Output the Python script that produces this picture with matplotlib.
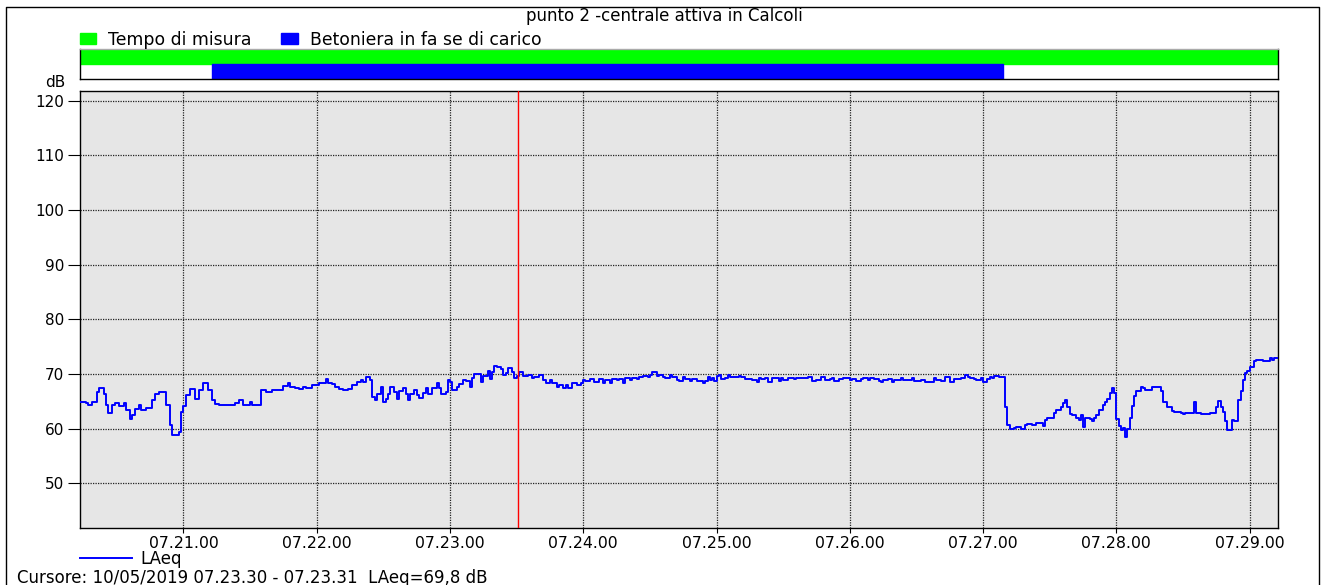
import matplotlib.pyplot as plt
from matplotlib.patches import Patch
from matplotlib.lines import Line2D
from matplotlib.ticker import MultipleLocator, FuncFormatter
import numpy as np

plt.rcParams['font.family'] = ['DejaVu Sans']
plt.rcParams['font.size'] = 12

# LAeq 1 s, step levels: start of each step in seconds after 07.20.00
t_start = [13, 16, 17, 19, 21, 22, 24, 25, 26, 28, 29, 31, 33, 34, 36, 37, 38, 40, 41, 43,
           46, 47, 49, 52, 54, 55, 58, 59, 60, 61, 63, 65, 67, 69, 71, 73, 74, 76, 83, 85,
           87, 90, 91, 95, 97, 100,
           105, 107, 108, 110, 112, 114, 115, 118, 121, 124, 125, 127, 128, 130, 132, 134, 136, 138, 140, 141,
           142, 144, 145, 146, 147, 149, 150, 151, 152, 153, 155, 156, 157, 159, 160, 161, 162, 164, 165, 166,
           168, 169, 170, 172, 174, 175, 176, 178, 179, 180, 181, 183, 184, 186, 187, 189, 190, 191, 194, 195,
           197,
           198, 199, 200, 201, 203, 204, 205, 206, 208, 209, 210, 211, 212, 213, 215, 217, 218, 220, 222, 223,
           225, 226, 228, 229, 231, 232, 233, 235, 237, 239, 240, 241, 243, 245, 247, 249, 250, 252, 253, 255,
           256, 258, 259, 261, 262, 264, 265, 267, 269, 270, 271, 273, 274, 276, 277, 279, 280, 282, 283, 285,
           286,
           288, 289, 291, 294, 295, 296, 297, 298, 299, 300, 301, 302, 304, 305, 306, 308, 310, 311, 313, 314,
           316, 318, 319, 320, 322, 323, 325, 328, 329, 330, 332, 333, 335, 336, 338, 339, 341, 342, 343, 345,
           347, 348, 349, 351, 352, 353, 355, 357, 359, 360, 361, 363, 365, 366, 368, 369, 370, 371, 373, 374,
           375, 377,
           379, 380, 383, 384, 388, 389, 392, 394, 396, 398, 399, 401, 403, 404, 405, 407, 408, 410, 412, 413,
           414, 416, 417, 419, 420, 422, 423, 424, 425, 427, 428, 430, 431, 432, 434, 435, 437, 439, 440, 442,
           444, 447, 448, 449, 452, 453, 455, 456, 457, 458, 459,
           460, 462, 463, 464, 465, 466, 468, 469, 470, 471, 472, 474, 475, 476, 477, 478, 479, 480, 481, 482,
           483, 484, 485, 486, 487, 488, 489, 491, 492, 493, 494, 496, 498, 500, 501, 503, 505, 506, 509, 510,
           511, 515, 516, 518, 522, 525, 526, 527, 528, 529, 530, 532, 533, 535, 536, 537, 538, 539, 540, 542,
           543, 546, 549, 550, 551]
laeq = [64.9, 64.7, 64.3, 64.9, 66.7, 67.4, 66.4, 64.3, 62.8, 64.3, 64.6, 64.2, 64.6, 63.4, 61.8, 62.5, 63.6, 64.3, 63.4, 63.8,
        65.2, 66.3, 66.7, 64.3, 60.6, 58.9, 59.4, 63.1, 64.2, 66.1, 67.2, 65.5, 67.1, 68.3, 67.1, 65.2, 64.5, 64.3, 64.6, 65.2,
        64.3, 64.9, 64.3, 67.1, 66.7, 67.1,
        67.8, 68.3, 67.7, 67.5, 67.2, 67.7, 67.5, 68.0, 68.4, 69.1, 68.3, 68.1, 67.7, 67.2, 67.1, 67.2, 68.0, 68.6, 68.9, 68.6,
        69.5, 68.9, 65.8, 65.2, 66.3, 67.7, 64.9, 65.5, 66.4, 67.7, 66.7, 65.5, 66.9, 67.5, 66.4, 65.2, 66.3, 67.1, 66.1, 65.6,
        66.6, 67.5, 66.4, 67.4, 68.3, 67.4, 66.3, 66.7, 68.9, 68.5, 67.1, 67.7, 68.1, 68.9, 68.7, 67.7, 69.2, 70.0, 68.6, 69.7,
        70.6,
        69.0, 70.4, 71.5, 71.2, 70.9, 69.8, 70.1, 71.0, 70.4, 69.2, 69.7, 70.3, 70.4, 69.6, 69.8, 69.2, 69.5, 69.9, 68.9, 68.3,
        68.9, 68.3, 67.7, 68.0, 67.5, 68.0, 67.5, 68.3, 68.0, 68.3, 68.9, 68.7, 69.1, 68.6, 69.0, 68.3, 68.9, 68.3, 69.1, 68.9,
        69.1, 68.3, 69.2, 68.9, 69.3, 69.0, 69.5, 69.7, 69.5, 69.9, 70.3, 69.7, 69.9, 69.5, 69.3, 69.8, 69.5, 68.9, 68.7, 69.5,
        69.1,
        68.7, 69.1, 68.7, 68.3, 68.8, 69.4, 68.9, 69.2, 68.7, 69.7, 69.9, 69.1, 69.2, 69.8, 69.4, 69.5, 69.7, 69.5, 69.1, 69.0,
        68.9, 68.6, 69.3, 69.1, 69.2, 68.6, 69.2, 68.8, 69.2, 68.9, 69.3, 69.2, 69.1, 69.3, 69.2, 69.3, 69.4, 69.5, 68.8, 68.9,
        69.4, 69.5, 68.9, 69.1, 69.3, 68.8, 69.1, 69.3, 69.2, 68.9, 69.1, 68.7, 69.1, 69.2, 68.9, 69.2, 69.3, 69.1, 68.7, 68.6,
        68.9, 69.1,
        68.6, 68.9, 69.3, 68.9, 69.3, 68.7, 68.9, 68.5, 68.6, 69.2, 68.9, 68.7, 69.4, 69.5, 68.6, 69.0, 69.1, 69.2, 69.8, 69.5,
        69.3, 69.1, 68.9, 69.2, 68.6, 69.1, 69.5, 69.3, 69.6, 69.5, 69.4, 64.0, 60.6, 59.9, 60.1, 60.3, 60.0, 60.6, 60.9, 60.7,
        61.0, 60.5, 61.5, 62.0, 62.8, 63.4, 64.0, 64.6, 65.3, 64.0, 62.6,
        62.5, 61.9, 61.5, 62.5, 60.2, 62.0, 61.7, 61.4, 61.9, 62.5, 63.4, 64.3, 64.9, 65.5, 66.5, 67.5, 66.5, 61.7, 60.5, 59.8,
        60.1, 58.4, 59.9, 61.9, 64.1, 65.9, 66.8, 67.6, 67.4, 67.1, 67.0, 67.6, 67.7, 66.8, 64.9, 64.0, 63.2, 63.1, 62.9, 62.6,
        62.8, 64.8, 62.8, 62.6, 62.8, 64.0, 65.1, 64.0, 63.1, 61.3, 59.8, 61.6, 61.3, 65.2, 66.8, 68.9, 70.2, 70.6, 71.3, 72.4,
        72.6, 72.3, 73.0, 72.6, 72.9]
t_end = 553

# eventi (secondi dopo 07.20.00)
tempo_misura = (13, 553)
betoniera = (73, 429)
t_cursore = 210.5

x_min, x_max = 13.4, 552.8
y_min, y_max = 41.8, 121.8

W, H = 1328, 585
fig = plt.figure(figsize=(W / 100, H / 100), dpi=100)
fig.patch.set_facecolor('white')

# grafico principale
ax = fig.add_axes([80 / W, 57 / H, 1198 / W, 437 / H])
ax.set_facecolor('#e6e6e6')
x = np.append(t_start, t_end)
y = np.append(laeq, laeq[-1])
line, = ax.plot(x, y, drawstyle='steps-post', color='#0000ff', lw=1.4, label='LAeq', zorder=3)
ax.axvline(t_cursore, color='#ff0000', lw=1, zorder=4)

ax.set_xlim(x_min, x_max)
ax.set_ylim(y_min, y_max)
ax.xaxis.set_major_locator(MultipleLocator(60))
ax.xaxis.set_major_formatter(FuncFormatter(lambda s, p: '07.%02d.%02d' % (20 + int(s) // 60, int(s) % 60)))
ax.yaxis.set_major_locator(MultipleLocator(10))
ax.grid(True, color='#222222', linestyle=(0, (1, 1)), linewidth=0.9)
ax.set_axisbelow(True)
ax.tick_params(axis='x', direction='out', length=3.6, width=0.8, colors='black', pad=2.2, labelsize=11.3)
ax.tick_params(axis='y', direction='out', length=8.5, width=0.8, colors='black', pad=3, labelsize=11)
for s in ax.spines.values():
    s.set_color('black')
    s.set_linewidth(1)

# barre eventi
axb = fig.add_axes([80 / W, 506 / H, 1198 / W, 30 / H])
axb.broken_barh([(tempo_misura[0], tempo_misura[1] - tempo_misura[0])], (1, 1), color='#00ff00')
axb.broken_barh([(betoniera[0], betoniera[1] - betoniera[0])], (0, 1), color='#0000ff')
axb.set_xlim(x_min, x_max)
axb.set_ylim(0, 2)
axb.set_xticks([])
axb.set_yticks([])
for s in axb.spines.values():
    s.set_color('black')
    s.set_linewidth(1)
axb.spines['top'].set_color('#aaaaaa')

# testi
fig.text(0.5, 1 - 16 / H, 'punto 2 -centrale attiva in Calcoli', ha='center', va='center')
fig.text(65 / W, 1 - 83 / H, 'dB', ha='right', va='center', fontsize=11)
fig.legend([Patch(color='#00ff00'), Patch(color='#0000ff')],
           ['Tempo di misura', 'Betoniera in fa se di carico'],
           loc='center left', bbox_to_anchor=(80 / W, 1 - 40 / H), ncol=2, frameon=False,
           fontsize=12.4, handlelength=0.95, handleheight=0.6, handletextpad=0.7, columnspacing=1.7,
           borderpad=0, borderaxespad=0)
fig.legend([line], ['LAeq'], loc='center left', bbox_to_anchor=(80 / W, 1 - 559 / H),
           frameon=False, handlelength=3.1, handletextpad=0.5, borderpad=0, borderaxespad=0)
fig.text(17 / W, 1 - 578 / H, 'Cursore: 10/05/2019 07.23.30 - 07.23.31  LAeq=69,8 dB', va='center')

# cornice
fig.add_artist(Line2D([6 / W, 6 / W, 1319 / W, 1319 / W], [0, 1 - 7 / H, 1 - 7 / H, 0],
                      transform=fig.transFigure, color='black', lw=1))

fig.savefig('out.png', dpi=100)
